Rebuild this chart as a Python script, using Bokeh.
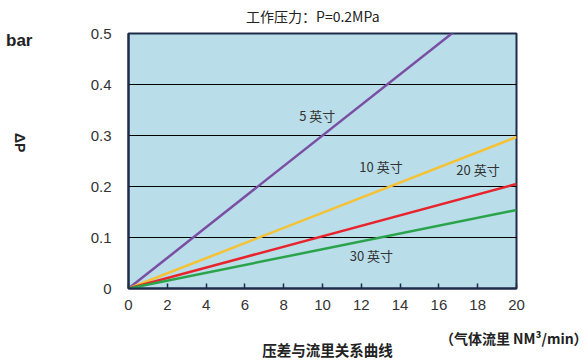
import math
from bokeh.plotting import figure
from bokeh.models import Range1d, FixedTicker, Label, LinearAxis
from bokeh.embed import file_html
from bokeh.resources import INLINE

# ---- data ----
flow = [0, 20]                      # NM3/min
dp_5in = [0, 0.60]                  # bar
dp_10in = [0, 0.297]
dp_20in = [0, 0.205]
dp_30in = [0, 0.154]
series_names = ["5 英寸", "10 英寸", "20 英寸", "30 英寸"]
series_values = [dp_5in, dp_10in, dp_20in, dp_30in]
series_colors = ["#7a4fa3", "#f6c233", "#e8232b", "#2aa34a"]
x_ticks = [0, 2, 4, 6, 8, 10, 12, 14, 16, 18, 20]
y_ticks = [0, 0.1, 0.2, 0.3, 0.4, 0.5]
y_tick_labels = ["0", "0.1", "0.2", "0.3", "0.4", "0.5"]
title_text = "工作压力：P=0.2MPa"
y_unit = "bar"
y_name = "ΔP"
x_unit = "（气体流里 NM³/min）"
bottom_title = "压差与流里关系曲线"

# ---- placement (data coordinates of the texts) ----
label_pos = [(8.8, 0.339), (11.9, 0.239), (16.9, 0.234), (11.4, 0.065)]

DARK = "#1e2b4a"
TXT = "#222222"

p = figure(width=588, height=363, output_backend="svg", toolbar_location=None,
           x_range=Range1d(0, 20), y_range=Range1d(0, 0.5))
p.min_border_left = 126
p.min_border_right = 72
p.min_border_top = 33
p.min_border_bottom = 75
p.background_fill_color = "#b9dde9"
p.border_fill_color = "white"
p.outline_line_color = DARK
p.outline_line_width = 2

for vals, col in zip(series_values, series_colors):
    p.line(flow, vals, line_color=col, line_width=2.5)

for name, (lx, ly) in zip(series_names, label_pos):
    p.add_layout(Label(x=lx, y=ly, text=name, text_font="Noto Sans CJK SC",
                       text_font_size="13px", text_color="#333333",
                       text_baseline="middle", text_align="left"))

# main axes
xa = p.xaxis[0]
xa.ticker = FixedTicker(ticks=x_ticks)
xa.major_tick_in = 5
xa.major_tick_out = 0
xa.minor_tick_line_color = None
xa.axis_line_color = DARK
xa.axis_line_width = 2
xa.major_tick_line_color = DARK
xa.major_tick_line_width = 1.5
xa.major_label_text_font = "Liberation Sans"
xa.major_label_text_font_size = "15px"
xa.major_label_text_color = "#333333"
xa.major_label_standoff = 11

ya = p.yaxis[0]
ya.ticker = FixedTicker(ticks=y_ticks)
ya.major_label_overrides = {t: s for t, s in zip(y_ticks, y_tick_labels)}
ya.major_tick_in = 0
ya.major_tick_out = 0
ya.minor_tick_line_color = None
ya.axis_line_color = DARK
ya.axis_line_width = 2
ya.major_label_text_font = "Liberation Sans"
ya.major_label_text_font_size = "15px"
ya.major_label_text_color = "#333333"
ya.major_label_standoff = 17

p.xgrid.grid_line_color = None
p.ygrid.ticker = FixedTicker(ticks=y_ticks)
p.ygrid.grid_line_color = "black"
p.ygrid.grid_line_width = 1


def text_axis(side, at, text, standoff, font, size, bold=True, orientation="horizontal"):
    ax = LinearAxis(ticker=FixedTicker(ticks=[at]), major_label_overrides={at: text})
    ax.axis_line_color = None
    ax.major_tick_line_color = None
    ax.minor_tick_line_color = None
    ax.major_tick_in = 0
    ax.major_tick_out = 0
    ax.major_label_standoff = standoff
    ax.major_label_text_font = font
    ax.major_label_text_font_size = size
    ax.major_label_text_font_style = "bold" if bold else "normal"
    ax.major_label_text_color = TXT
    ax.major_label_orientation = orientation
    p.add_layout(ax, side)
    return ax


# texts around the chart, drawn as single-label axes so they sit outside the frame
text_axis("above", 9.5, title_text, 8, "Noto Sans CJK SC", "14px", bold=False)
text_axis("left", 0.267, y_name, 68, "Liberation Sans", "14px", orientation=-math.pi / 2)
text_axis("left", 0.486, y_unit, -32, "Liberation Sans", "17px")
text_axis("below", 19.95, x_unit, 15, "Noto Sans CJK SC", "14px")
text_axis("below", 10.26, bottom_title, -12, "Noto Sans CJK SC", "14.5px")

open("out.html", "w").write(file_html(p, INLINE))
